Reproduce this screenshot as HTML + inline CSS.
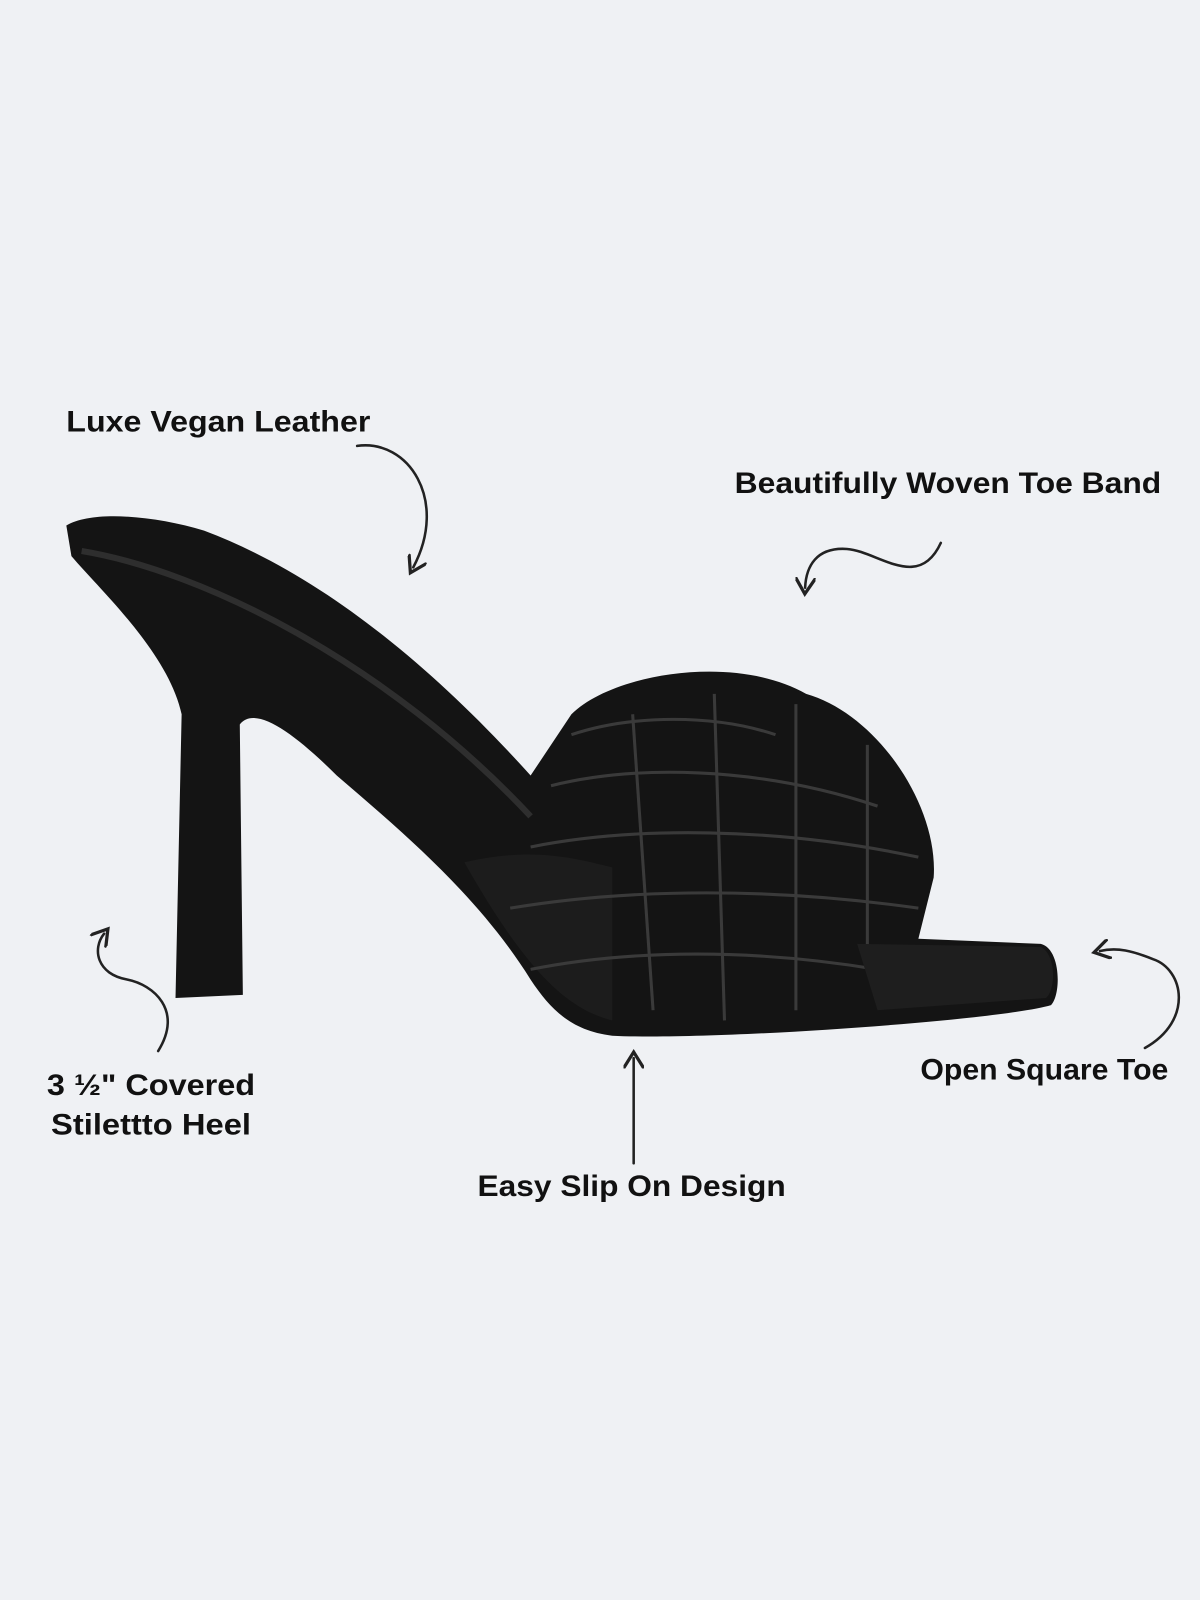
<!DOCTYPE html>
<html><head><meta charset="utf-8"><style>
html,body{margin:0;padding:0;background:#eff1f4;}
svg{display:block}
text{font-family:"Liberation Sans",sans-serif;font-weight:bold;fill:#111;font-size:29px}
</style></head><body>
<svg width="1200" height="1600" viewBox="0 0 1176 1568" preserveAspectRatio="none" xmlns="http://www.w3.org/2000/svg">
<rect width="1176" height="1568" fill="#eff1f4"/>
<defs><marker id="a" viewBox="0 0 10 10" refX="5" refY="5" markerWidth="8" markerHeight="8" orient="auto-start-reverse"><path d="M0,0 L8,5 L0,10" fill="none" stroke="#222" stroke-width="1.6"/></marker></defs>
<!-- shoe -->
<path d="M65,515 C90,500 150,505 200,520 C320,565 430,660 520,760 L560,700 C600,660 720,640 790,680 C860,700 920,790 915,860 L900,920 L1020,925 C1040,930 1040,975 1030,985 C980,1000 700,1020 600,1015 C560,1010 540,990 520,960 C470,880 400,820 330,760 C290,720 250,690 235,710 L238,975 L172,978 L178,700 C165,640 100,580 70,545 Z" fill="#141414"/>
<path d="M80,540 C200,560 380,650 520,800" fill="none" stroke="#2e2e2e" stroke-width="6"/>
<path d="M455,845 C520,830 560,840 600,850 L600,1000 C560,990 520,960 455,845Z" fill="#1c1c1c"/>
<g fill="none" stroke="#3a3a3a" stroke-width="3">
<path d="M560,720 C620,700 700,700 760,720"/><path d="M540,770 C620,750 740,750 860,790"/>
<path d="M520,830 C620,810 760,810 900,840"/><path d="M500,890 C620,870 760,870 900,890"/>
<path d="M520,950 C620,930 740,930 860,950"/>
<path d="M620,700 L640,990"/><path d="M700,680 L710,1000"/><path d="M780,690 L780,990"/><path d="M850,730 L850,940"/>
</g>
<path d="M840,925 L1020,928 C1035,935 1035,970 1025,978 L860,990 Z" fill="#1e1e1e"/>
<!-- labels -->
<text x="65" y="423" textLength="298" lengthAdjust="spacingAndGlyphs">Luxe Vegan Leather</text>
<text x="720" y="483" textLength="418" lengthAdjust="spacingAndGlyphs">Beautifully Woven Toe Band</text>
<text x="46" y="1073" textLength="204" lengthAdjust="spacingAndGlyphs">3 ½" Covered</text>
<text x="50" y="1112" textLength="196" lengthAdjust="spacingAndGlyphs">Stilettto Heel</text>
<text x="468" y="1172" textLength="302" lengthAdjust="spacingAndGlyphs">Easy Slip On Design</text>
<text x="902" y="1058" textLength="243" lengthAdjust="spacingAndGlyphs">Open Square Toe</text>
<!-- arrows -->
<g fill="none" stroke="#222" stroke-width="2.5" stroke-linecap="round">
<path d="M350,437 C400,430 440,490 405,556" marker-end="url(#a)"/>
<path d="M922,532 C900,580 860,540 830,538 C800,536 790,555 789,576" marker-end="url(#a)"/>
<path d="M155,1030 C180,990 150,965 125,960 C95,955 90,930 102,915" marker-end="url(#a)"/>
<path d="M621,1140 L621,1037" marker-end="url(#a)"/>
<path d="M1122,1027 C1170,1000 1160,950 1130,940 C1110,932 1095,928 1078,932" marker-end="url(#a)"/>
</g>
</svg>
</body></html>
